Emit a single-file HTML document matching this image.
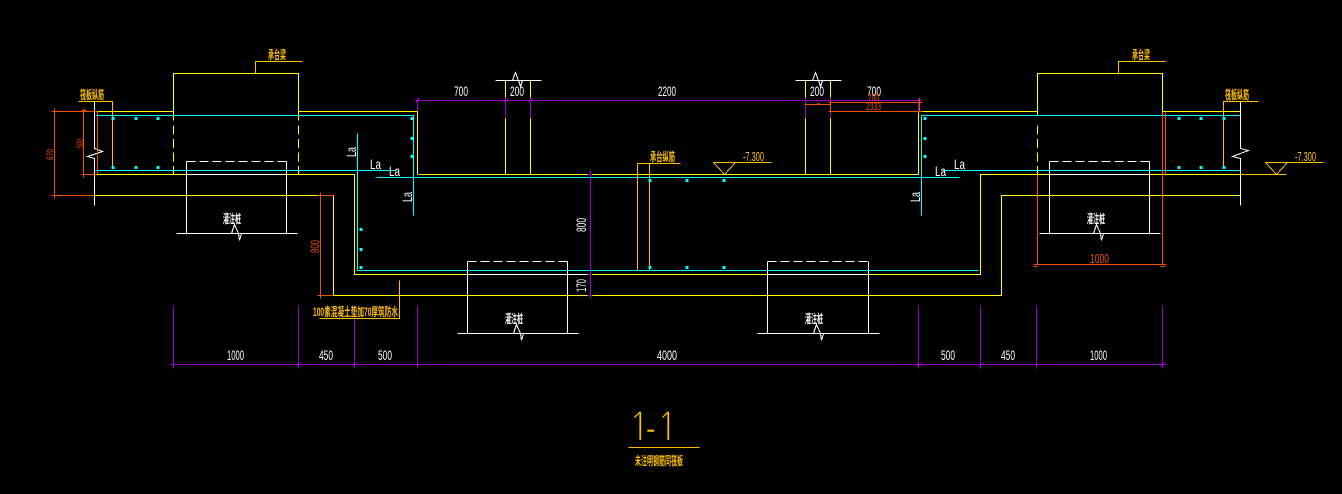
<!DOCTYPE html>
<html><head><meta charset="utf-8"><style>
html,body{margin:0;padding:0;background:#000;width:1342px;height:494px;overflow:hidden}
svg{display:block}
.l path,.l polyline{fill:none;stroke-width:1}
.l path.dot{stroke-width:3;stroke:#0ff}
.y{stroke:#ff0}.w{stroke:#fff}.c{stroke:#0ff}.p{stroke:#9900cc}.o{stroke:#f04f00}.a{stroke:#ffbf00}
text{font-family:"Liberation Sans Narrow","Liberation Sans",sans-serif}
.t{fill:#fff;font-size:14px}
.r{fill:#f04f00;font-size:11px}
.g{fill:#ffbf00;font-size:13px}
.z{font-family:"Liberation Sans","Noto Sans CJK SC",sans-serif;font-size:12px;font-weight:bold}
</style></head><body>
<svg width="1342" height="494" viewBox="0 0 1342 494" xmlns="http://www.w3.org/2000/svg">
<rect width="1342" height="494" fill="#000"/>

<!-- title (drawn first so the base of the glyphs can be masked before the underline) -->
<text transform="scale(.7 1)" y="443" fill="#ffbf00" stroke="#000" stroke-width="1.6" paint-order="fill stroke" style="font-size:46px" x="901 922 941">1-1</text>
<rect x="625" y="440" width="60" height="6" fill="#000"/>

<g class="l" transform="translate(.5 .5)" shape-rendering="crispEdges">
<path class="c" d="M95 115H413V215M921 215V115H1240M95 170H396M942 170H1240M376 177H959M357 133V270H978"/>
<path class="y" d="M97 111H173M298 111H417V97M921 111H1037M1162 111H1240M173 120V73H298V120M1037 115V73H1162V112"/>
<path class="y" stroke-dasharray="9 4.5" d="M173 125V174M298 125V174M1037 125V174"/>
<path class="y" d="M97 174H186M286 174H354V274H467M590 274H767M868 274H980V174H1049M1149 174H1240M418 174H918V112M417 111V174"/>
<path class="y" d="M94 195H333V295H1001V195H1240"/>
<path class="y" d="M505 80V97M505 118V174M530 80V97M530 118V174M805 80V97M805 118V174M830 80V97M830 118V174"/>
<path class="w" d="M186 174H286M467 274H590M767 274H868M1049 174H1149"/>
<path class="w" d="M186 161V233M286 161V233M176 233H297M467 261V333M567 261V333M457 333H578M767 261V333M868 261V333M757 333H879M1049 161V233M1149 161V233M1039 233H1160"/>
<path class="w" stroke-dasharray="9 4" d="M186 161H286M467 261H567M767 261H868M1049 161H1149"/>
<path class="w" d="M495 80H541M795 80H841"/>
<polyline class="w" points="512,80 515,72 518,80 520,86 522,80"/>
<polyline class="w" points="812,80 815,72 818,80 820,86 822,80"/>
<polyline class="w" points="231,233 234,224 238,233 239,240 241,233"/>
<polyline class="w" points="513,333 516,324 520,333 521,340 523,333"/>
<polyline class="w" points="813,333 816,324 820,333 821,340 823,333"/>
<polyline class="w" points="1093,233 1096,224 1100,233 1101,240 1103,233"/>
<polyline class="w" points="94,101 94,148 102,151 87,156 94,158 94,205"/>
<polyline class="w" points="1240,101 1240,148 1248,150 1232,156 1240,158 1240,205"/>
<path class="p" d="M414 100H921M417 97V111M505 97V118M530 97V118M805 97V118M830 97V118M918 97V111"/>
<path class="p" d="M503 102L507 98M528 102L532 98M415 102L419 98"/>
<path class="p" d="M590 170V298M587 174H592M587 274H592M587 295H592"/>
<path class="p" d="M170 364H1165M173 305V368M298 305V368M354 305V368M417 305V368M918 305V368M980 305V368M1036 305V368M1162 305V368"/>
<path class="p" d="M296 366L301 362M352 366L357 362M916 366L921 362M978 366L983 362M1160 366L1165 362"/>
<path class="o" d="M54 111V195M54 111H97M54 195H94M83 111V174M83 174H97M97 111V174"/>
<path class="o" d="M51 111H57M51 195H57M54 108V114M54 192V198M81 110H86M81 174H86M83 108V114M83 172V177"/>
<path class="o" d="M320 195V295M319 195H333M319 295H333M317 195H323M317 295H323M320 192V198M320 292V298"/>
<path class="o" d="M830 102H920M830 111H920M804 104H830M919 98V112M830 100V112M828 102H833M828 111H833M917 102H922M917 111H922M817 103H819M817 104H819"/>
<path class="o" d="M1037 174V264M1162 112V264M1165 112V174M1033 264H1166M1033 266H1037M1160 266H1165"/>
<path class="a" d="M255 73V61H302M78 101H112V167M1118 73V61H1165M1223 167V101H1258M637 270V163H680M649 163V270M319 318H399V280M628 447H699"/>
<path class="a" d="M1240 174H1286M1265 162H1323M1265 162L1276 174L1287 162M713 162H771M713 162L724 174L735 162"/>
<path class="dot" d="M111 118h3M134 118h3M156 118h3M111 167h3M134 167h3M156 167h3M410 118h3M410 138h3M410 156h3M923 118h3M923 138h3M923 156h3M359 229h3M359 249h3M359 267h3M1177 118h3M1199 118h3M1222 118h3M1177 167h3M1199 167h3M1222 167h3M648 180h3M685 180h3M722 180h3M648 267h3M685 267h3M722 267h3"/>
</g>

<!-- white dims -->
<text class="t" x="454" y="96" textLength="14" lengthAdjust="spacingAndGlyphs">700</text>
<text class="t" x="510" y="96" textLength="14" lengthAdjust="spacingAndGlyphs">200</text>
<text class="t" x="658" y="96" textLength="18" lengthAdjust="spacingAndGlyphs">2200</text>
<text class="t" x="810" y="96" textLength="14" lengthAdjust="spacingAndGlyphs">200</text>
<text class="t" x="867" y="96" textLength="14" lengthAdjust="spacingAndGlyphs">700</text>
<text class="t" x="227" y="360" textLength="17" lengthAdjust="spacingAndGlyphs">1000</text>
<text class="t" x="319" y="360" textLength="14" lengthAdjust="spacingAndGlyphs">450</text>
<text class="t" x="378" y="360" textLength="14" lengthAdjust="spacingAndGlyphs">500</text>
<text class="t" x="657" y="360" textLength="20" lengthAdjust="spacingAndGlyphs">4000</text>
<text class="t" x="941" y="360" textLength="14" lengthAdjust="spacingAndGlyphs">500</text>
<text class="t" x="1001" y="360" textLength="14" lengthAdjust="spacingAndGlyphs">450</text>
<text class="t" x="1090" y="360" textLength="17" lengthAdjust="spacingAndGlyphs">1000</text>
<text class="t" transform="translate(586 232) rotate(-90)" textLength="14" lengthAdjust="spacingAndGlyphs">800</text>
<text class="t" transform="translate(586 292) rotate(-90)" textLength="13" lengthAdjust="spacingAndGlyphs">170</text>

<!-- La labels -->
<text class="t" x="370" y="169" textLength="11" lengthAdjust="spacingAndGlyphs">La</text>
<text class="t" x="389" y="176" textLength="11" lengthAdjust="spacingAndGlyphs">La</text>
<text class="t" x="935" y="176" textLength="11" lengthAdjust="spacingAndGlyphs">La</text>
<text class="t" x="954" y="169" textLength="11" lengthAdjust="spacingAndGlyphs">La</text>
<text class="t" transform="translate(356 157) rotate(-90)" textLength="10" lengthAdjust="spacingAndGlyphs">La</text>
<text class="t" transform="translate(412 202) rotate(-90)" textLength="10" lengthAdjust="spacingAndGlyphs">La</text>
<text class="t" transform="translate(920 202) rotate(-90)" textLength="10" lengthAdjust="spacingAndGlyphs">La</text>

<!-- orange-red dims -->
<text class="r" x="1090" y="263" style="font-size:13px" textLength="19" lengthAdjust="spacingAndGlyphs">1000</text>
<text class="r" x="868" y="101" textLength="11" lengthAdjust="spacingAndGlyphs">700</text>
<text class="r" x="866" y="110" textLength="15" lengthAdjust="spacingAndGlyphs">2333</text>
<text class="r" transform="translate(319 253) rotate(-90)" style="font-size:12px" textLength="13" lengthAdjust="spacingAndGlyphs">800</text>
<text class="r" transform="translate(83 148) rotate(-90)" style="font-size:9px" textLength="9" lengthAdjust="spacingAndGlyphs">500</text>
<text class="r" transform="translate(53 160) rotate(-90)" style="font-size:9px" textLength="11" lengthAdjust="spacingAndGlyphs">670</text>

<!-- elevations -->
<text class="g" x="743" y="161" textLength="21" lengthAdjust="spacingAndGlyphs">-7.300</text>
<text class="g" x="1295" y="161" textLength="21" lengthAdjust="spacingAndGlyphs">-7.300</text>

<!-- CJK labels -->
<text class="z" fill="#ffbf00" x="268" y="59" textLength="18" lengthAdjust="spacingAndGlyphs">承台梁</text>
<text class="z" fill="#ffbf00" x="1132" y="59" textLength="18" lengthAdjust="spacingAndGlyphs">承台梁</text>
<text class="z" fill="#ffbf00" x="80" y="99" textLength="24" lengthAdjust="spacingAndGlyphs">筏板纵筋</text>
<text class="z" fill="#ffbf00" x="1225" y="99" textLength="24" lengthAdjust="spacingAndGlyphs">筏板纵筋</text>
<text class="z" fill="#ffbf00" x="650" y="161" textLength="25" lengthAdjust="spacingAndGlyphs">承台纵筋</text>
<text class="z" fill="#fff" x="223" y="223" textLength="18" lengthAdjust="spacingAndGlyphs">灌注桩</text>
<text class="z" fill="#fff" x="505" y="323" textLength="18" lengthAdjust="spacingAndGlyphs">灌注桩</text>
<text class="z" fill="#fff" x="805" y="323" textLength="18" lengthAdjust="spacingAndGlyphs">灌注桩</text>
<text class="z" fill="#fff" x="1087" y="223" textLength="18" lengthAdjust="spacingAndGlyphs">灌注桩</text>
<text class="z" fill="#ffbf00" x="313" y="316" textLength="85" lengthAdjust="spacingAndGlyphs">100素混凝土垫加70厚筑防水</text>
<text class="z" fill="#ffbf00" x="635" y="465" textLength="48" lengthAdjust="spacingAndGlyphs">未注明钢筋同筏板</text>
</svg>
</body></html>
